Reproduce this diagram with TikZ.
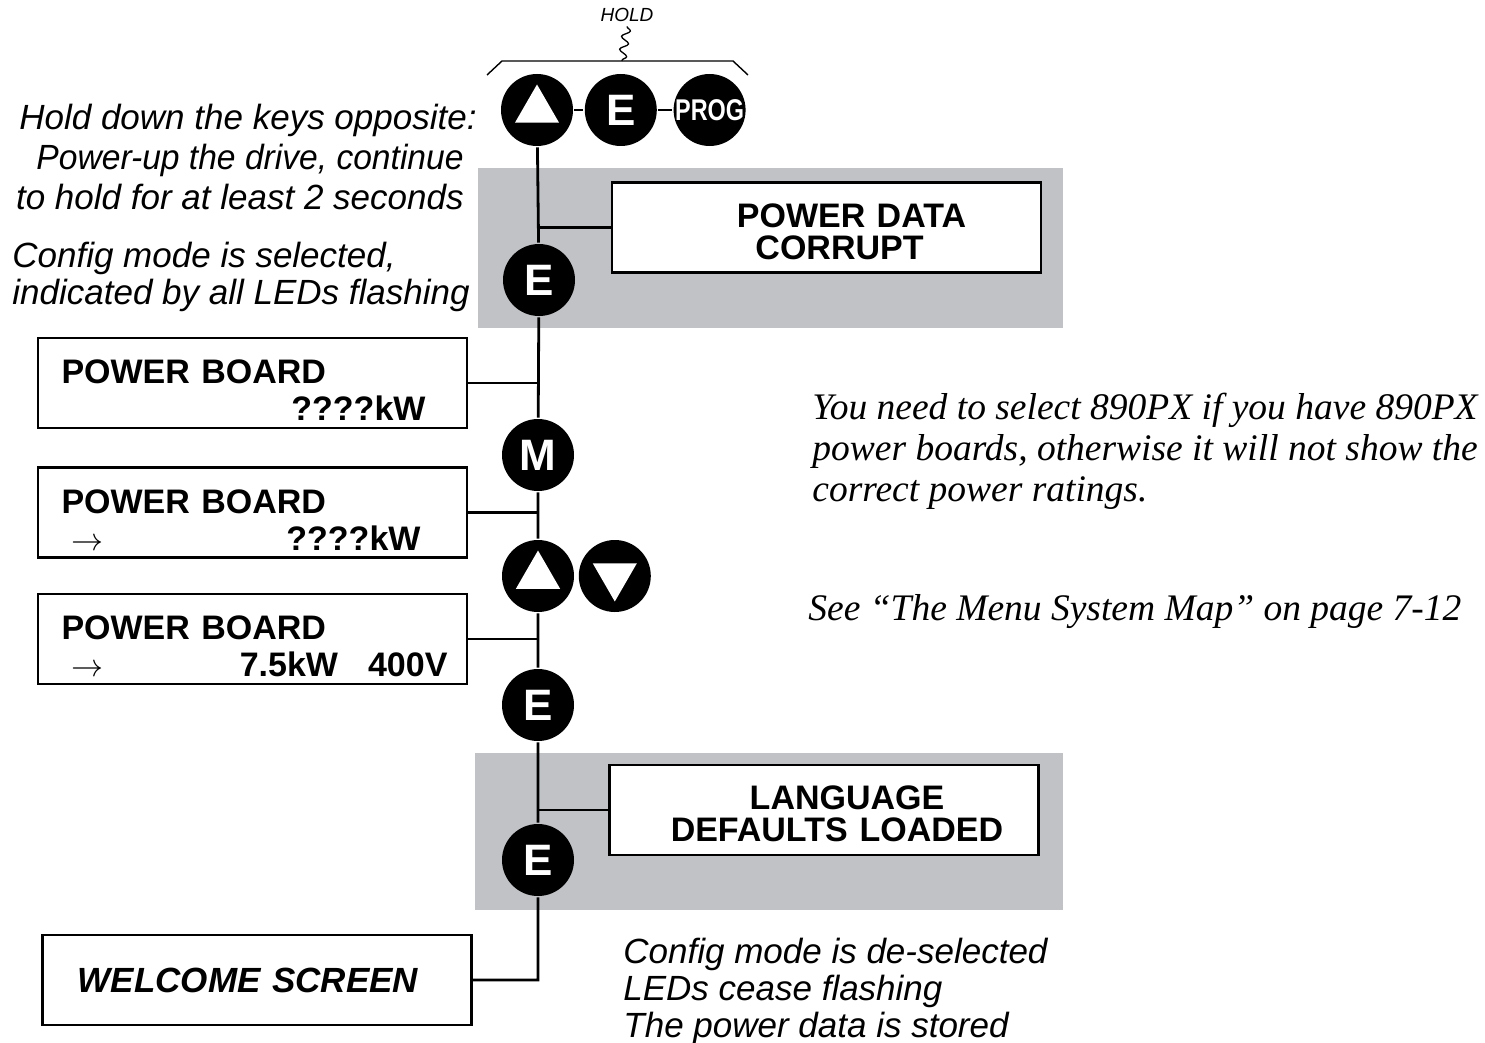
\documentclass[tikz,border=0pt]{standalone}
\usepackage{fontspec}
\usepackage{graphicx}
\setmainfont{Liberation Serif}
\setsansfont{Liberation Sans}
\usetikzlibrary{arrows,positioning,shapes.geometric,decorations.pathmorphing}
\definecolor{panelgray}{RGB}{193,194,198}
\def\fs#1#2{\fontsize{#1}{#2}\selectfont}
\def\arr{\smash{\resizebox{32pt}{!}{$\rightarrow$}}}
\def\lcdtop{\rule{0pt}{38pt}}
\def\msgtop{\rule{0pt}{32pt}}

\begin{document}
\begin{tikzpicture}[x=1pt,y=-1pt,line width=2.8pt,
    key/.style={circle,fill=black,inner sep=0pt,minimum size=72pt,text=white,font=\sffamily\bfseries\fs{44}{44}},
    tri/.style={regular polygon,regular polygon sides=3,fill=white,inner sep=0pt,minimum size=51pt},
    lcd/.style={draw,fill=white,line width=2.2pt,minimum width=429pt,minimum height=90pt,inner sep=0pt,
        text width=382pt,align=left,font=\sffamily\bfseries\fs{34}{37}},
    msg/.style={lcd,text width=429pt,align=center,font=\sffamily\bfseries\fs{34}{32}},
    note/.style={font=\sffamily\itshape\fs{35}{40},inner sep=0pt},
    remark/.style={font=\itshape\fs{37.5}{41}\selectfont,inner sep=0pt,align=left}]
    \useasboundingbox (0,0) rectangle (1485,1043);

    \fill[panelgray] (478,168) rectangle (1063,328);
    \fill[panelgray] (475,753) rectangle (1063,910);

    \node[key] (up1) at (537,110) {};
    \node[tri] at (up1) {};
    \node[key,right=9pt of up1] (e1) {E};
    \node[key,right=14pt of e1,font=\sffamily\bfseries\fs{30}{30}] (prog) {\scalebox{0.78}[1]{PROG}};
    \node[key] (e2) at (539,280) {E};
    \node[key] (m) at (538,455) {M};
    \node[key] (up2) at (538,576) {};
    \node[tri] at (up2) {};
    \node[key,right=2pt of up2] (dn) {};
    \node[tri,shape border rotate=180] at (dn) {};
    \node[key] (e3) at (538,705) {E};
    \node[key] (e4) at (538,860) {E};

    \node[font=\sffamily\itshape\fs{19}{19}] (hold) at (627,15) {HOLD};
    \coordinate (brace) at (622,61);
    \draw[line width=1.4pt] (487,75) -- (502,61) -- (733,61) -- (748,75);
    \draw[line width=1.3pt,decorate,decoration={snake,amplitude=4pt,segment length=13pt}] (hold.south) -- (brace);

    \node[msg] (corrupt) at (826.5,227.5) {\msgtop\hspace*{50pt}POWER DATA\\\hspace*{26pt}CORRUPT};
    \node[lcd] (board1) at (252.5,383) {\lcdtop POWER BOARD\\\hspace*{\fill}????kW\hspace*{18pt}\mbox{}};
    \node[lcd] (board2) at (252.5,512.5) {\lcdtop POWER BOARD\\\hspace*{10pt}\arr\hspace*{\fill}????kW\hspace*{23pt}\mbox{}};
    \node[lcd] (board3) at (252.5,639) {\lcdtop POWER BOARD\\\hspace*{10pt}\arr\hspace*{\fill}7.5kW\hspace*{30pt}400V\hspace*{-4pt}\mbox{}};
    \node[msg] (lang) at (824,810) {\msgtop\hspace*{46pt}LANGUAGE\\\hspace*{26pt}DEFAULTS\hspace{12pt}LOADED};
    \node[msg,font=\sffamily\bfseries\itshape\fs{35}{35}] (welcome) at (257,980) {WELCOME SCREEN\hspace*{18pt}\mbox{}};

    \draw (up1) -- (e1) -- (prog);
    \draw (up1) -- (e2) -- (m) -- (up2) -- (e3) -- (e4) |- (welcome.east);
    \draw (corrupt.west) -- (corrupt.west -| up1);
    \draw (board1.east) -- (board1.east -| up1);
    \draw (board2.east) -- (board2.east -| up1);
    \draw (board3.east) -- (board3.east -| up1);
    \draw (lang.west) -- (lang.west -| up1);

    \node[note,align=right,anchor=east] (holdnote) at (478,157) {Hold down the keys opposite:\\\scalebox{0.96}[1]{Power-up the drive, continue}\hspace*{13pt}\mbox{}\\to hold for at least 2 seconds\hspace*{13pt}\mbox{}};
    \node[note,align=left,anchor=west,font=\sffamily\itshape\fs{35}{37}] (cfgnote) at (11,277) {Config mode is selected,\\indicated by all LEDs flashing};
    \node[note,align=left,anchor=west,font=\sffamily\itshape\fs{35}{37}] (donenote) at (622,991) {Config mode is de-selected\\LEDs cease flashing\\The power data is stored};
    \node[remark,anchor=west] (pxnote) at (811,451) {You need to select 890PX if you have 890PX\\power boards, otherwise it will not show the\\correct power ratings.};
    \node[remark,anchor=west] (mapnote) at (807,612) {See “The Menu System Map” on page 7-12};
\end{tikzpicture}
\end{document}
